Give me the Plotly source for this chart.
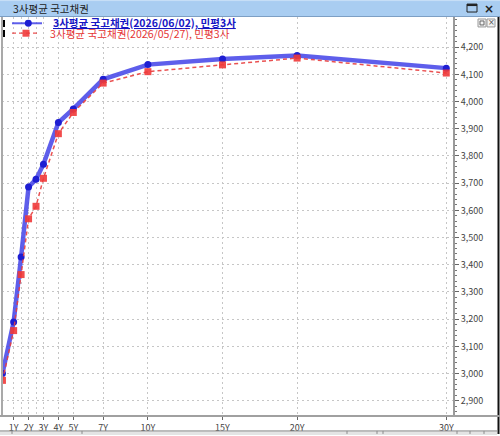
import plotly.graph_objects as go

# ---------------- data ----------------
maturities = [0.25, 1, 1.5, 2, 2.5, 3, 4, 5, 7, 10, 15, 20, 30]
yield_0602 = [3000, 3190, 3429, 3686, 3714, 3770, 3923, 3973, 4082, 4136, 4157, 4169, 4123]
yield_0527 = [2975, 3158, 3364, 3569, 3615, 3718, 3882, 3960, 4068, 4110, 4135, 4160, 4105]
tick_years = [1, 2, 3, 4, 5, 7, 10, 15, 20, 30]
tick_labels = ["1Y", "2Y", "3Y", "4Y", "5Y", "7Y", "10Y", "15Y", "20Y", "30Y"]
grid_minor_years = [1.5, 2.5]
y_ticks = [2900, 3000, 3100, 3200, 3300, 3400, 3500, 3600, 3700, 3800, 3900, 4000, 4100, 4200]
series_names = ["3사평균 국고채권(2026/06/02), 민평3사", "3사평균 국고채권(2026/05/27), 민평3사"]
window_title = "3사평균 국고채권"

# ---------------- layout geometry ----------------
W, H = 500, 436
L, R, T, B = 2, 47, 17, 18
PX0, PX1, PY0, PY1 = L, W - R, T, H - B

def px(x):
    return (x - PX0) / (PX1 - PX0)

def py(y):
    return (PY1 - y) / (PY1 - PY0)

KR = "Noto Sans CJK KR"
BLUE_LINE = "rgba(72,72,232,0.88)"
BLUE_MK = "#1e1ed2"
RED_LINE = "rgba(232,62,62,0.9)"
RED_MK = "rgba(240,56,56,0.9)"
GRID = "#c6c6c6"

fig = go.Figure()
fig.add_trace(go.Scatter(
    x=maturities, y=yield_0602, mode="lines+markers", name=series_names[0],
    line=dict(color=BLUE_LINE, width=4.5),
    marker=dict(symbol="circle", size=7, color=BLUE_MK),
))
fig.add_trace(go.Scatter(
    x=maturities, y=yield_0527, mode="lines+markers", name=series_names[1],
    line=dict(color=RED_LINE, width=1.5, dash="4px,3px"),
    marker=dict(symbol="square", size=7, color=RED_MK),
))

shapes = []
annotations = []

def rect(x0, y0, x1, y1, fill, line_color=None, lw=0, layer="above"):
    shapes.append(dict(type="rect", xref="paper", yref="paper",
                       x0=px(x0), x1=px(x1), y0=py(y1), y1=py(y0),
                       fillcolor=fill, layer=layer,
                       line=dict(color=line_color or fill, width=lw)))

def hline(x0, x1, y, color, w, dash=None, layer="above"):
    d = dict(color=color, width=w)
    if dash:
        d["dash"] = dash
    shapes.append(dict(type="line", xref="paper", yref="paper",
                       x0=px(x0), x1=px(x1), y0=py(y), y1=py(y), line=d, layer=layer))

def vline(x, y0, y1, color, w, layer="above"):
    shapes.append(dict(type="line", xref="paper", yref="paper",
                       x0=px(x), x1=px(x), y0=py(y0), y1=py(y1),
                       line=dict(color=color, width=w), layer=layer))

def text(x, y, s, size, color, anchor="left", family=KR):
    annotations.append(dict(xref="paper", yref="paper", x=px(x), y=py(y), text=s,
                            showarrow=False, xanchor=anchor, yanchor="middle",
                            borderpad=0, font=dict(family=family, size=size, color=color)))

# title bar
rect(-2, 0, 502, 16, "#a9cdf1")
hline(-2, 502, 0.5, "#c9e0f7", 1)
hline(-2, 502, 16.5, "#7d9fc4", 1)
text(12, 8.5, window_title, 10.5, "#1c1c1c")
rect(467, 4, 477, 12, "rgba(0,0,0,0)", "#222", 1)
hline(467, 477, 5, "#222", 2)
text(489, 8.5, "<b>×</b>", 12, "#222", anchor="center", family="DejaVu Sans")

# window borders
rect(0, 17, 3, 418, "white")
vline(2, 17, 418, "#8c8c8c", 1.5)
vline(498.5, 17, 436, "#111", 2)
hline(0, 500, 418, "#a0a0a0", 2)

# small panel buttons
rect(478, 19, 486, 27, "#f2f2f2", "#9a9a9a", 1)
rect(487, 19, 495, 27, "#f2f2f2", "#9a9a9a", 1)
rect(480, 21, 484, 25, "rgba(0,0,0,0)", "#666", 1)
text(491, 23, "×", 8, "#555", anchor="center", family="DejaVu Sans")

# bottom toolbar strip
rect(0, 433, 497, 437, "#e4e4e4")
hline(0, 497, 433, "#8a8a8a", 1)
for xv in (12, 82, 347, 377, 383, 457, 470, 484):
    vline(xv, 433, 436, "#8a8a8a", 1)

# custom legend
rect(3, 20, 5, 27, "#000")
hline(12, 42, 23.3, BLUE_LINE, 2)
shapes.append(dict(type="circle", xref="paper", yref="paper",
                   x0=px(24.8), x1=px(31.8), y0=py(26.8), y1=py(19.8),
                   fillcolor=BLUE_MK, line=dict(color=BLUE_MK, width=0)))
text(52, 22.8, "<b><u>" + series_names[0] + "</u></b>", 10.5, "#1616c4")

rect(3, 30, 5, 37, "#000")
hline(12, 40, 33.3, RED_LINE, 1.3, dash="4px,3px")
rect(22.5, 29.8, 29.5, 36.8, RED_MK)
text(49, 33.8, series_names[1], 10.6, "#e53535")

fig.update_layout(
    width=W, height=H,
    margin=dict(l=L, r=R, t=T, b=B, pad=0),
    paper_bgcolor="white", plot_bgcolor="white",
    showlegend=False,
    shapes=shapes, annotations=annotations,
    font=dict(family=KR, size=9, color="#444"),
    xaxis=dict(
        range=[0.22, 30.45], tickmode="array", tickvals=tick_years, ticktext=tick_labels,
        showgrid=True, gridcolor=GRID, gridwidth=1, griddash="2px,3px",
        minor=dict(tickmode="array", tickvals=grid_minor_years, showgrid=True,
                   gridcolor=GRID, gridwidth=1, griddash="2px,3px", ticks=""),
        showline=False, zeroline=False,
        ticks="outside", ticklen=3, tickcolor="#666", tickwidth=1,
        tickfont=dict(family=KR, size=9, color="#444"), fixedrange=True,
    ),
    yaxis=dict(
        side="right", range=[2844, 4311], tickmode="array", tickvals=y_ticks,
        tickformat=",d",
        showgrid=True, gridcolor=GRID, gridwidth=1, griddash="2px,3px",
        showline=True, linecolor="#9a9a9a", linewidth=2, zeroline=False,
        ticks="outside", ticklen=4, tickcolor="#666", tickwidth=1,
        minor=dict(tickmode="linear", tick0=0, dtick=20, ticks="outside", ticklen=2,
                   tickcolor="#777", showgrid=False),
        tickfont=dict(family=KR, size=9, color="#444"), fixedrange=True,
    ),
)

fig.write_html("out.html")
